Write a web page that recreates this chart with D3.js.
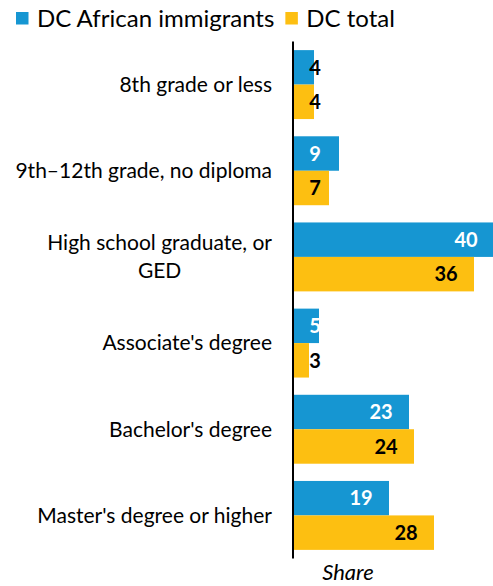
<!DOCTYPE html>
<html>
<head>
<meta charset="utf-8">
<script src="https://cdn.jsdelivr.net/npm/d3@7"></script>
<style>
  html, body { margin: 0; padding: 0; background: #fff; }
  svg { display: block; font-family: Lato, "Noto Sans", sans-serif; }
</style>
</head>
<body>
<svg id="chart" width="493" height="586"></svg>
<script>
const categories = [
  "8th grade or less",
  "9th\u201312th grade, no diploma",
  "High school graduate, or GED",
  "Associate's degree",
  "Bachelor's degree",
  "Master's degree or higher"
];
const seriesNames = ["DC African immigrants", "DC total"];
const africanImmigrants = [4, 9, 40, 5, 23, 19];
const dcTotal = [4, 7, 36, 3, 24, 28];
const colors = ["#1696d2", "#fdbf11"];
const axisTitle = "Share";

const svg = d3.select("#chart");
const x0 = 294;
const x = d3.scaleLinear().domain([0, 40]).range([x0, 494]);
const y = d3.scaleBand().domain(categories).range([41.5, 558.5]).paddingInner(0.2).paddingOuter(0.1);
const ySub = d3.scaleBand().domain(seriesNames).range([0, y.bandwidth()]);

const data = categories.map((c, i) => ({cat: c, vals: [africanImmigrants[i], dcTotal[i]]}));

const g = svg.append("g");
const groups = g.selectAll("g.grp").data(data).join("g")
  .attr("class", "grp")
  .attr("transform", d => `translate(0,${y(d.cat)})`);

groups.selectAll("rect").data(d => d.vals.map((v, j) => ({v, s: seriesNames[j], j})))
  .join("rect")
  .attr("x", x0)
  .attr("y", d => ySub(d.s))
  .attr("width", d => x(d.v) - x0)
  .attr("height", ySub.bandwidth())
  .attr("fill", d => colors[d.j]);

groups.selectAll("text.val").data(d => d.vals.map((v, j) => ({v, s: seriesNames[j], j})))
  .join("text")
  .attr("class", "val")
  .attr("x", d => Math.max(x(d.v) - 28, x0 + 21))
  .attr("y", d => ySub(d.s) + ySub.bandwidth() / 2)
  .attr("dy", "0.36em")
  .attr("text-anchor", "middle")
  .attr("font-size", 20)
  .attr("font-weight", 700)
  .attr("fill", d => (d.j === 0 && (x(d.v) - x0) >= 24) ? "#ffffff" : "#000000")
  .text(d => d.v);

// category labels
const labelRight = 272;
const maxW = 262;
groups.each(function(d) {
  const grp = d3.select(this);
  const t = grp.append("text")
    .attr("font-size", 21)
    .attr("fill", "#000")
    .attr("text-anchor", "end");
  const words = d.cat.split(" ");
  let lines = [];
  let line = [];
  const probe = t.append("tspan");
  words.forEach(w => {
    line.push(w);
    probe.text(line.join(" "));
    if (probe.node().getComputedTextLength() > maxW && line.length > 1) {
      line.pop();
      lines.push(line.join(" "));
      line = [w];
    }
  });
  lines.push(line.join(" "));
  probe.remove();
  const lh = 28;
  const cy = y.bandwidth() / 2;
  const top = cy - (lines.length - 1) * lh / 2;
  const widths = lines.map(l => {
    const s = t.append("tspan").text(l);
    const w = s.node().getComputedTextLength();
    s.remove();
    return w;
  });
  const blockW = d3.max(widths);
  lines.forEach((l, k) => {
    const cx = labelRight - blockW / 2;
    t.append("tspan")
      .attr("x", lines.length > 1 ? cx : labelRight)
      .attr("text-anchor", lines.length > 1 ? "middle" : "end")
      .attr("y", top + k * lh)
      .attr("dy", "0.35em")
      .text(l);
  });
});

// axis line
svg.append("line")
  .attr("x1", 293).attr("x2", 293)
  .attr("y1", y.range()[0]).attr("y2", y.range()[1])
  .attr("stroke", "#000").attr("stroke-width", 2);

// axis title
svg.append("text")
  .attr("x", 348)
  .attr("y", 580)
  .attr("text-anchor", "middle")
  .attr("font-size", 22)
  .attr("font-style", "italic")
  .text(axisTitle);

// legend
const leg = svg.append("g");
let lx = 16;
seriesNames.forEach((s, j) => {
  leg.append("rect").attr("x", lx).attr("y", 12).attr("width", 12.5).attr("height", 12.5).attr("fill", colors[j]);
  const t = leg.append("text").attr("x", lx + 21).attr("y", 27)
    .attr("font-size", 24).attr("fill", "#000").text(s);
  lx += 21 + t.node().getComputedTextLength() + 11;
});
</script>
</body>
</html>
